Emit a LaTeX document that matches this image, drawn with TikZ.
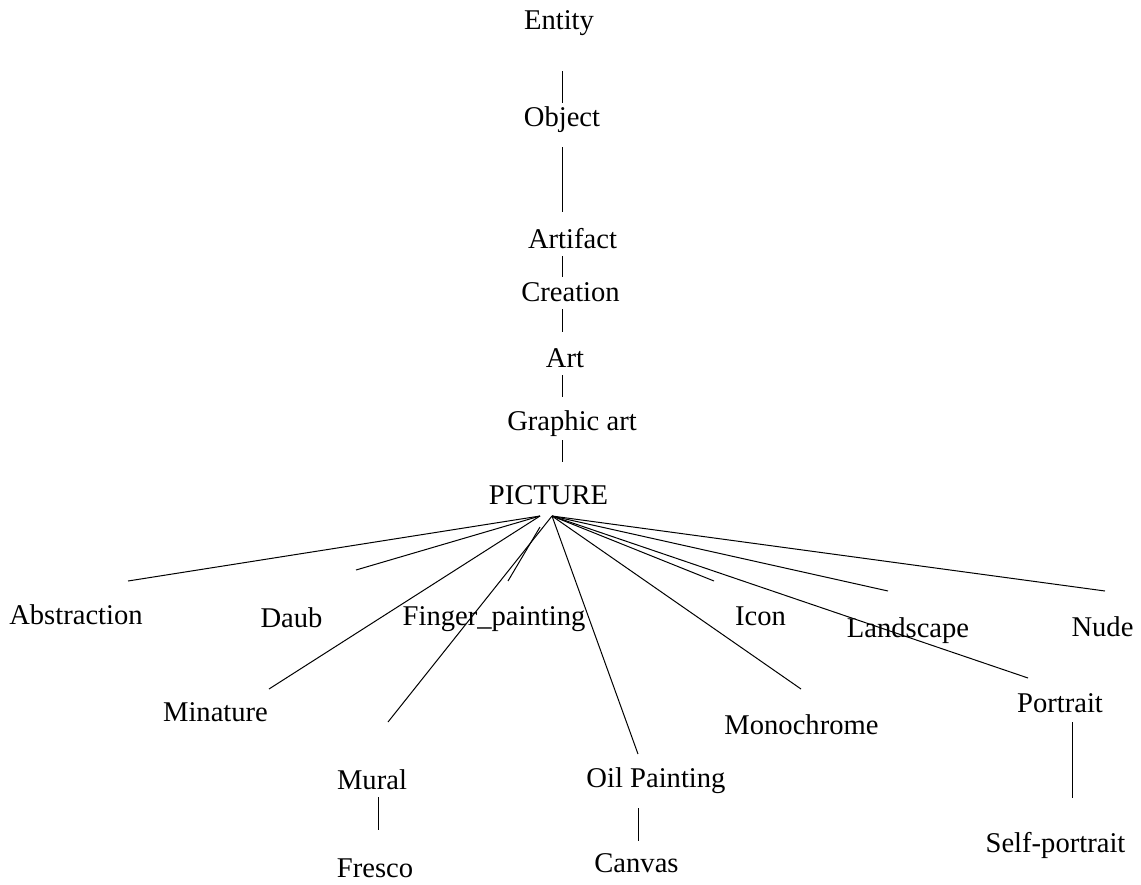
\documentclass[tikz,border=0pt]{standalone}
\usepackage{fontspec}
\setmainfont{Liberation Serif}
\usetikzlibrary{calc}
\tikzstyle{term} = [inner sep=0pt, anchor=base, text height=10pt, text depth=3pt, font=\fontsize{14.3pt}{17pt}\selectfont]
\tikzstyle{link} = [line width=0.5pt, black]

\begin{document}
\begin{tikzpicture}[x=0.5pt, y=-0.5pt]
    \useasboundingbox (0,0) rectangle (1141,884);

    % upper chain
    \node (entity) [term] at (559,29) {Entity};
    \node (object) [term] at (562,126) {Object};
    \node (artifact) [term] at (572.5,248) {Artifact};
    \node (creation) [term] at (570.5,301) {Creation};
    \node (art) [term] at (565,367) {Art};
    \node (graphic) [term] at (572,430) {Graphic art};
    \node (picture) [term] at (548.5,504) {PICTURE};

    % kinds of picture
    \node (abs) [term] at (76,624) {Abstraction};
    \node (daub) [term] at (291.5,627) {Daub};
    \node (finger) [term] at (494,625) {Finger\_painting};
    \node (icon) [term] at (760.5,625) {Icon};
    \node (land) [term] at (908,637) {Landscape};
    \node (nude) [term] at (1102.5,636) {Nude};
    \node (mina) [term] at (215.5,721) {Minature};
    \node (mono) [term] at (801.5,734) {Monochrome};
    \node (port) [term] at (1060,712) {Portrait};
    \node (mural) [term] at (372,789) {Mural};
    \node (oil) [term] at (656,787) {Oil Painting};
    \node (fresco) [term] at (375,877) {Fresco};
    \node (canvas) [term] at (636.5,872) {Canvas};
    \node (self) [term] at (1055.5,852) {Self-portrait};

    \foreach \u/\v/\x/\s/\t in {entity/object/562/18pt/1.5pt, object/artifact/562/7.5pt/8pt,
        artifact/creation/562/1pt/2pt, creation/art/562/1pt/7.5pt, art/graphic/562/1pt/6.5pt,
        graphic/picture/562/2pt/11pt, mural/fresco/378/1pt/13.5pt, oil/canvas/638/7.5pt/5.5pt,
        port/self/1072/2pt/17pt} {
        \draw [link, shorten <=\s, shorten >=\t] (\u.south -| \x,0) -- (\v.north -| \x,0);
    }

    % fan below PICTURE
    \coordinate (hub) at (552,516);
    \coordinate (hubl) at (540,516);
    \coordinate (abs-in) at (128,581);
    \coordinate (daub-in) at (356,570);
    \coordinate (mina-in) at (269,689);
    \coordinate (mural-in) at (388,722);
    \coordinate (oil-in) at (638,754);
    \coordinate (icon-in) at (714,581);
    \coordinate (mono-in) at (801,689);
    \coordinate (land-in) at (888,591);
    \coordinate (nude-in) at (1105,591);
    \coordinate (port-in) at (1028,678);
    \coordinate (fin-top) at (540,527);
    \coordinate (fin-in) at (508,581);

    \foreach \c in {abs, daub, mina} {
        \draw [link] (hubl) -- (\c-in);
    }
    \foreach \c in {mural, oil, icon, mono, land, nude, port} {
        \draw [link] (hub) -- (\c-in);
    }
    \draw [link] (fin-top) -- (fin-in);
\end{tikzpicture}
\end{document}
